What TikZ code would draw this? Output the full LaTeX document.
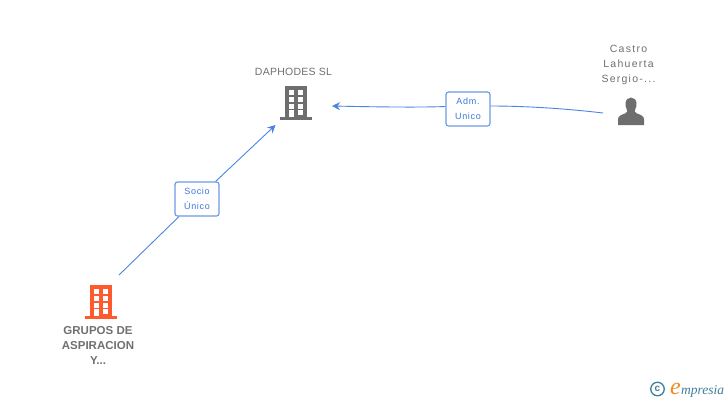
\documentclass[tikz,border=0pt]{standalone}
\usepackage{fontspec}
\setmainfont{Liberation Sans}
\newfontfamily\slight[LetterSpace=2.5]{Liberation Sans}
\newfontfamily\spaced[LetterSpace=8]{Liberation Sans}
\newfontfamily\wide[LetterSpace=12]{Liberation Sans}
\newfontfamily\logofont{Liberation Serif}
\usetikzlibrary{arrows.meta}
\definecolor{linkblue}{HTML}{4A86E0}
\definecolor{boxblue}{HTML}{6C9CE6}
\definecolor{labelblue}{HTML}{3A78D8}
\definecolor{iconGrey}{HTML}{6E6E6E}
\definecolor{txtGrey}{HTML}{707070}
\definecolor{iconOrange}{HTML}{FF5A2D}
\definecolor{logoTeal}{HTML}{3F7F9A}
\definecolor{logoOrange}{HTML}{F08A24}
\tikzset{
  x=1pt,y=-1pt,
  linkline/.style={draw=linkblue,line width=0.9pt},
  linkarrow/.style={linkline,-{Stealth[length=8pt,width=8pt]}},
  rolebox/.style={draw=boxblue,line width=1.2pt,fill=white,rounded corners=2.5pt,minimum width=44pt,minimum height=34pt,inner sep=0pt,align=center,text=labelblue,font=\fontsize{9}{14.5}\selectfont\spaced},
  nametext/.style={text=txtGrey,align=center,inner sep=0pt,font=\fontsize{10.5}{15}\selectfont},
  iconbox/.style={inner sep=0pt,minimum width=32pt,minimum height=34pt},
}
\newcommand{\buildingicon}[3]{%
  \begin{scope}[shift={(#1,#2)}]
    \fill[#3] (-11,0) rectangle (11,31);
    \fill[#3] (-16,31) rectangle (16,34);
    \foreach \wy/\wh in {4/4.5,11/5,17.5/5}{
      \fill[white] (-7.5,\wy) rectangle (-2,\wy+\wh);
      \fill[white] (1.8,\wy) rectangle (7.3,\wy+\wh);
    }
    \fill[white] (-7.5,24) rectangle (-2,31);
    \fill[white] (1.8,24) rectangle (7.3,28.5);
  \end{scope}}
\begin{document}
\begin{tikzpicture}
\useasboundingbox (0,0) rectangle (728,400);
\fill[white] (0,0) rectangle (728,400);

% icons
\buildingicon{296}{86}{iconGrey}
\buildingicon{101}{285}{iconOrange}
\fill[iconGrey] (618,125) -- (618,119.5) .. controls (618,116) and (621,115) .. (625,113.5)
  .. controls (627.5,112.5) and (627.5,111) .. (627,110)
  .. controls (625.5,107.5) and (625.5,105) .. (625.5,103.5)
  .. controls (625.5,100) and (628,97.5) .. (631,97.5)
  .. controls (634,97.5) and (636.5,100) .. (636.5,103.5)
  .. controls (636.5,105) and (636.5,107.5) .. (635,110)
  .. controls (634.5,111) and (634.5,112.5) .. (637,113.5)
  .. controls (641,115) and (644,116) .. (644,119.5) -- (644,125) -- cycle;

% named anchors for the nodes
\node[iconbox] (daphodes) at (296,103) {};
\node[iconbox] (grupos) at (101,302) {};
\node[iconbox] (castro) at (631,111) {};
\coordinate (gruposOut) at (119,275);
\coordinate (daphodesInA) at (275.5,125);
\coordinate (daphodesInB) at (332,106);
\coordinate (castroOut) at (603,113);

% labels of the icons
\node[nametext,font=\fontsize{10.5}{15}\selectfont\slight] (daphodesName) at (293.5,72) {DAPHODES SL};
\node[nametext,font=\fontsize{10.5}{15}\selectfont\wide] (castroName) at (628.5,64.5) {Castro\\Lahuerta\\Sergio-...};
\node[nametext,font=\fontsize{11.5}{15.2}\selectfont\bfseries,text=txtGrey] (gruposName) at (98,345.5) {GRUPOS DE\\ASPIRACION\\Y...};

% connectors
\node[rolebox] (socio) at (197,199) {Socio\\Único};
\node[rolebox] (adm) at (468,109) {Adm.\\Unico};
\draw[linkline] (gruposOut) -- (socio);
\draw[linkarrow] (socio) -- (daphodesInA);
\draw[linkline] (castroOut) .. controls (565,108.5) and (525,106) .. (adm.east |- 0,106);
\draw[linkarrow] (adm.west |- 0,106.5) .. controls (420,107.5) and (380,107) .. (daphodesInB);

% logo
\node[draw=logoTeal,line width=1.3pt,circle,minimum size=13.5pt,inner sep=0pt,text=logoTeal,font=\fontsize{10}{10}\selectfont\bfseries] (copyr) at (657.5,389) {c};
\node[anchor=base west,inner sep=0pt,text=logoOrange,font=\fontsize{24}{24}\selectfont\logofont\itshape] (logoE) at (670,394) {e};
\node[anchor=base west,inner sep=0pt,text=logoTeal,font=\fontsize{13.5}{14}\selectfont\logofont\itshape] (logoT) at (681,394) {mpresia};
\end{tikzpicture}
\end{document}
